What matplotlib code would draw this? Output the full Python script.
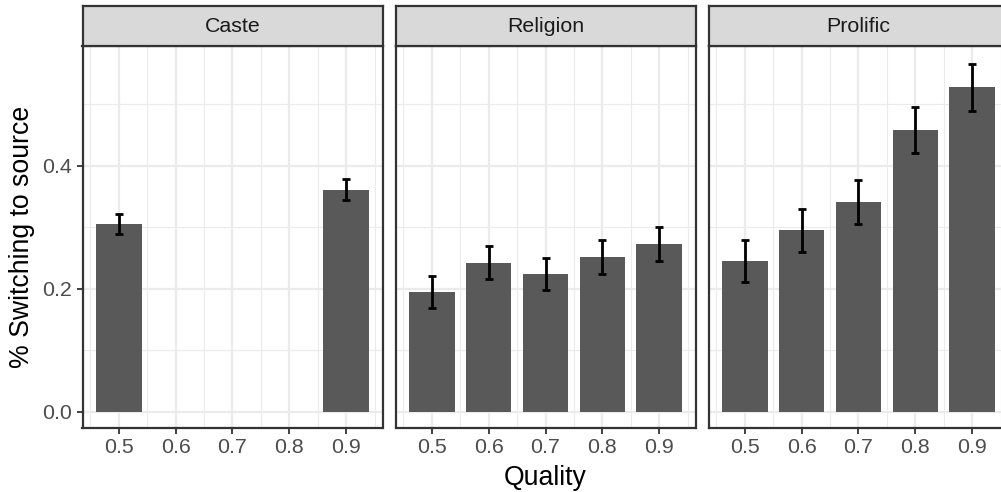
import matplotlib
matplotlib.use("Agg")
import matplotlib.pyplot as plt
import numpy as np

plt.rcParams["font.family"] = ["Liberation Sans", "DejaVu Sans"]

# facet order and data (mean, lower, upper)
facets = ["Caste", "Religion", "Prolific"]

caste_q = [0.5, 0.9]
caste_mean = [0.305, 0.360]
caste_lo = [0.289, 0.344]
caste_hi = [0.321, 0.378]

religion_q = [0.5, 0.6, 0.7, 0.8, 0.9]
religion_mean = [0.194, 0.241, 0.224, 0.251, 0.272]
religion_lo = [0.168, 0.215, 0.198, 0.224, 0.245]
religion_hi = [0.220, 0.269, 0.250, 0.279, 0.300]

prolific_q = [0.5, 0.6, 0.7, 0.8, 0.9]
prolific_mean = [0.245, 0.295, 0.341, 0.458, 0.528]
prolific_lo = [0.211, 0.259, 0.305, 0.420, 0.489]
prolific_hi = [0.279, 0.329, 0.376, 0.495, 0.565]

x_ticks = [0.5, 0.6, 0.7, 0.8, 0.9]
y_ticks = [0.0, 0.2, 0.4]

W, H = 1001, 492
fig = plt.figure(figsize=(W / 100, H / 100), dpi=100)

lefts = [82.5, 395.5, 708.5]
pw = 300
top, bottom = 46, 428
strip_top = 6

data = [
    (caste_q, caste_mean, caste_lo, caste_hi),
    (religion_q, religion_mean, religion_lo, religion_hi),
    (prolific_q, prolific_mean, prolific_lo, prolific_hi),
]

border = "#333333"
for i, (name, (q, m, lo, hi)) in enumerate(zip(facets, data)):
    ax = fig.add_axes([lefts[i] / W, (H - bottom) / H, pw / W, (bottom - top) / H])
    ax.set_axisbelow(True)
    q = np.array(q)
    m = np.array(m)
    ax.bar(q, m, width=0.08, color="#595959", zorder=2)
    ax.errorbar(q, m, yerr=[m - np.array(lo), np.array(hi) - m], fmt="none",
                ecolor="black", elinewidth=2.0, capsize=2.6, capthick=2.0, zorder=3)

    ax.set_xlim(0.436, 0.964)
    ax.set_ylim(-0.0268, 0.5943)
    ax.set_xticks(x_ticks)
    ax.set_xticklabels([f"{v:.1f}" for v in x_ticks])
    ax.set_xticks(np.arange(0.45, 1.0, 0.1), minor=True)
    ax.set_yticks(y_ticks)
    ax.set_yticks([0.1, 0.3, 0.5], minor=True)
    ax.grid(which="major", color="#EBEBEB", lw=1.6)
    ax.grid(which="minor", color="#EBEBEB", lw=0.8)
    ax.tick_params(which="minor", length=0)
    ax.tick_params(which="major", length=4.3, width=1.3, color=border,
                   labelsize=15.4, labelcolor="#4D4D4D", pad=3)
    if i == 0:
        ax.set_yticklabels([f"{v:.1f}" for v in y_ticks])
    else:
        ax.tick_params(axis="y", which="both", left=False, labelleft=False)
    for s in ax.spines.values():
        s.set_color(border)
        s.set_linewidth(1.6)

    # facet strip
    sax = fig.add_axes([lefts[i] / W, (H - top) / H, pw / W, (top - strip_top) / H])
    sax.set_facecolor("#D9D9D9")
    sax.set_xticks([])
    sax.set_yticks([])
    for s in sax.spines.values():
        s.set_color(border)
        s.set_linewidth(1.6)
    sax.text(0.5, 0.5, name, ha="center", va="center", fontsize=15.4,
             color="#1A1A1A", transform=sax.transAxes)

fig.text(545 / W, 1 - 478 / H, "Quality", ha="center", va="center", fontsize=19.2)
fig.text(22 / W, 1 - 237 / H, "% Switching to source", ha="center", va="center",
         rotation=90, fontsize=19.2)

fig.savefig("out.png", dpi=100)
